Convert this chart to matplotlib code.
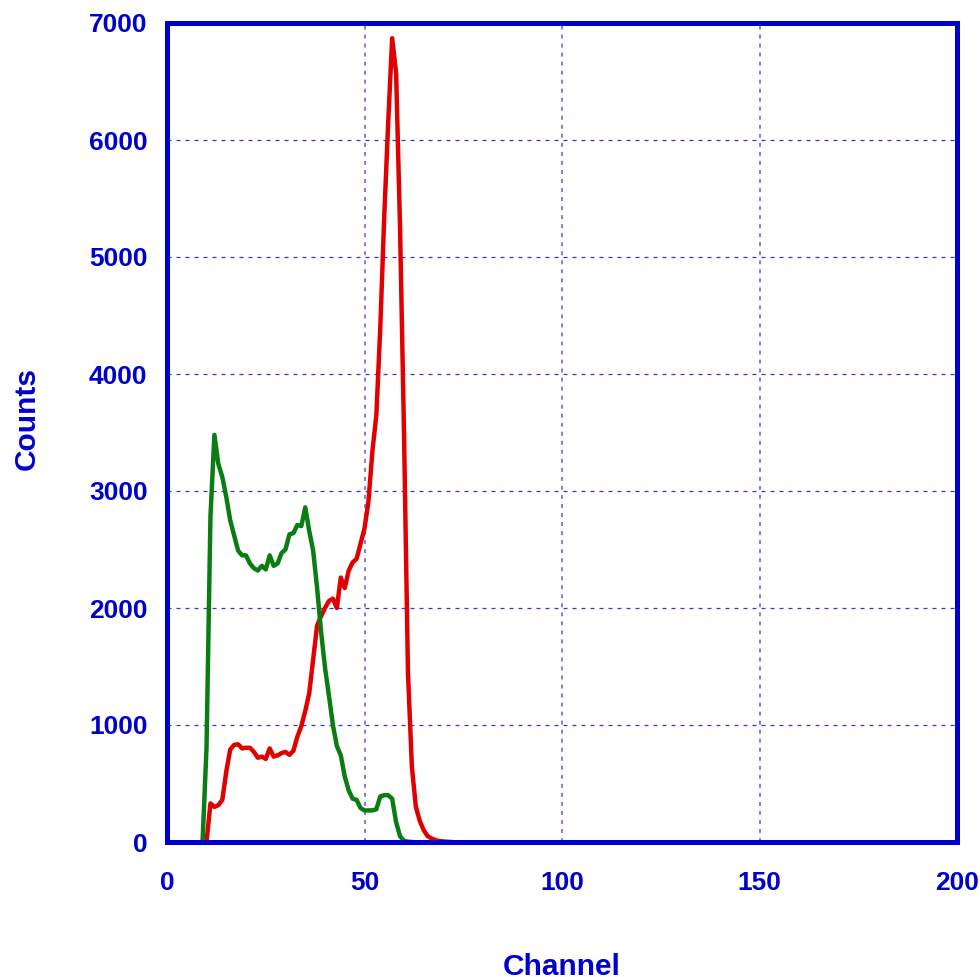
import matplotlib
matplotlib.use("Agg")
import matplotlib.pyplot as plt

# Spectra: counts per channel for two detectors
red_channels = list(range(9, 73))
red_counts = [0, 0, 330, 300, 315, 360, 600, 790, 830, 835, 800, 805, 805, 770, 720,
              730, 710, 800, 730, 740, 760, 770, 745, 780, 900, 990, 1120, 1270,
              1560, 1850, 1930, 2000, 2060, 2080, 2000, 2260, 2170, 2320, 2390, 2420,
              2550, 2680, 2910, 3340, 3650, 4400, 5350, 6150, 6870, 6570, 5250, 3500,
              1450, 640, 300, 180, 100, 50, 30, 15, 8, 5, 2, 0]

green_channels = list(range(9, 63))
green_counts = [0, 800, 2780, 3480, 3230, 3120, 2950, 2750, 2620, 2490, 2450, 2450,
                2380, 2340, 2320, 2360, 2330, 2450, 2360, 2380, 2470, 2500, 2630, 2640,
                2710, 2700, 2860, 2660, 2490, 2170, 1800, 1490, 1250, 1000, 820, 740,
                560, 440, 370, 360, 290, 270, 270, 270, 280, 390, 400, 400, 370, 170,
                50, 10, 3, 0]

x_ticks = [0, 50, 100, 150, 200]
y_ticks = [0, 1000, 2000, 3000, 4000, 5000, 6000, 7000]

BLUE = "#0000cc"
plt.rcParams["font.family"] = ["Liberation Sans", "DejaVu Sans"]

fig = plt.figure(figsize=(9.8, 9.77), dpi=100)
ax = fig.add_axes([167 / 980, 135 / 977, 790 / 980, 819 / 977])

ax.plot(red_channels, red_counts, color="#e00000", lw=3.2, solid_joinstyle="round", zorder=3)
ax.plot(green_channels, green_counts, color="#0a7d12", lw=3.2, solid_joinstyle="round", zorder=4)

ax.set_xlim(0, 200)
ax.set_ylim(0, 7000)
ax.set_xticks(x_ticks)
ax.set_yticks(y_ticks)

for sp in ax.spines.values():
    sp.set_color(BLUE)
    sp.set_linewidth(3.6)
    sp.set_zorder(5)

ax.tick_params(axis="both", length=0, labelcolor=BLUE, labelsize=19)
ax.tick_params(axis="x", pad=21)
ax.tick_params(axis="y", pad=14)
for lab in ax.get_xticklabels() + ax.get_yticklabels():
    lab.set_fontweight("bold")

ax.grid(axis="y", color="#2020d4", lw=0.9, linestyle=(0, (3.2, 4.0)), alpha=0.9)
ax.grid(axis="x", color="#5a5ae6", lw=1.3, linestyle=(0, (2.2, 2.8)), alpha=0.85)
ax.set_axisbelow(True)

fig.text(562 / 980, 1 - 975 / 977, "Channel", color=BLUE, fontsize=21.5,
         fontweight="bold", ha="center", va="baseline")
fig.text(27 / 980, 1 - 418 / 977, "Counts", color=BLUE, fontsize=21.5,
         fontweight="bold", ha="center", va="center", rotation=90)

fig.savefig("out.png", dpi=100, facecolor="white")
